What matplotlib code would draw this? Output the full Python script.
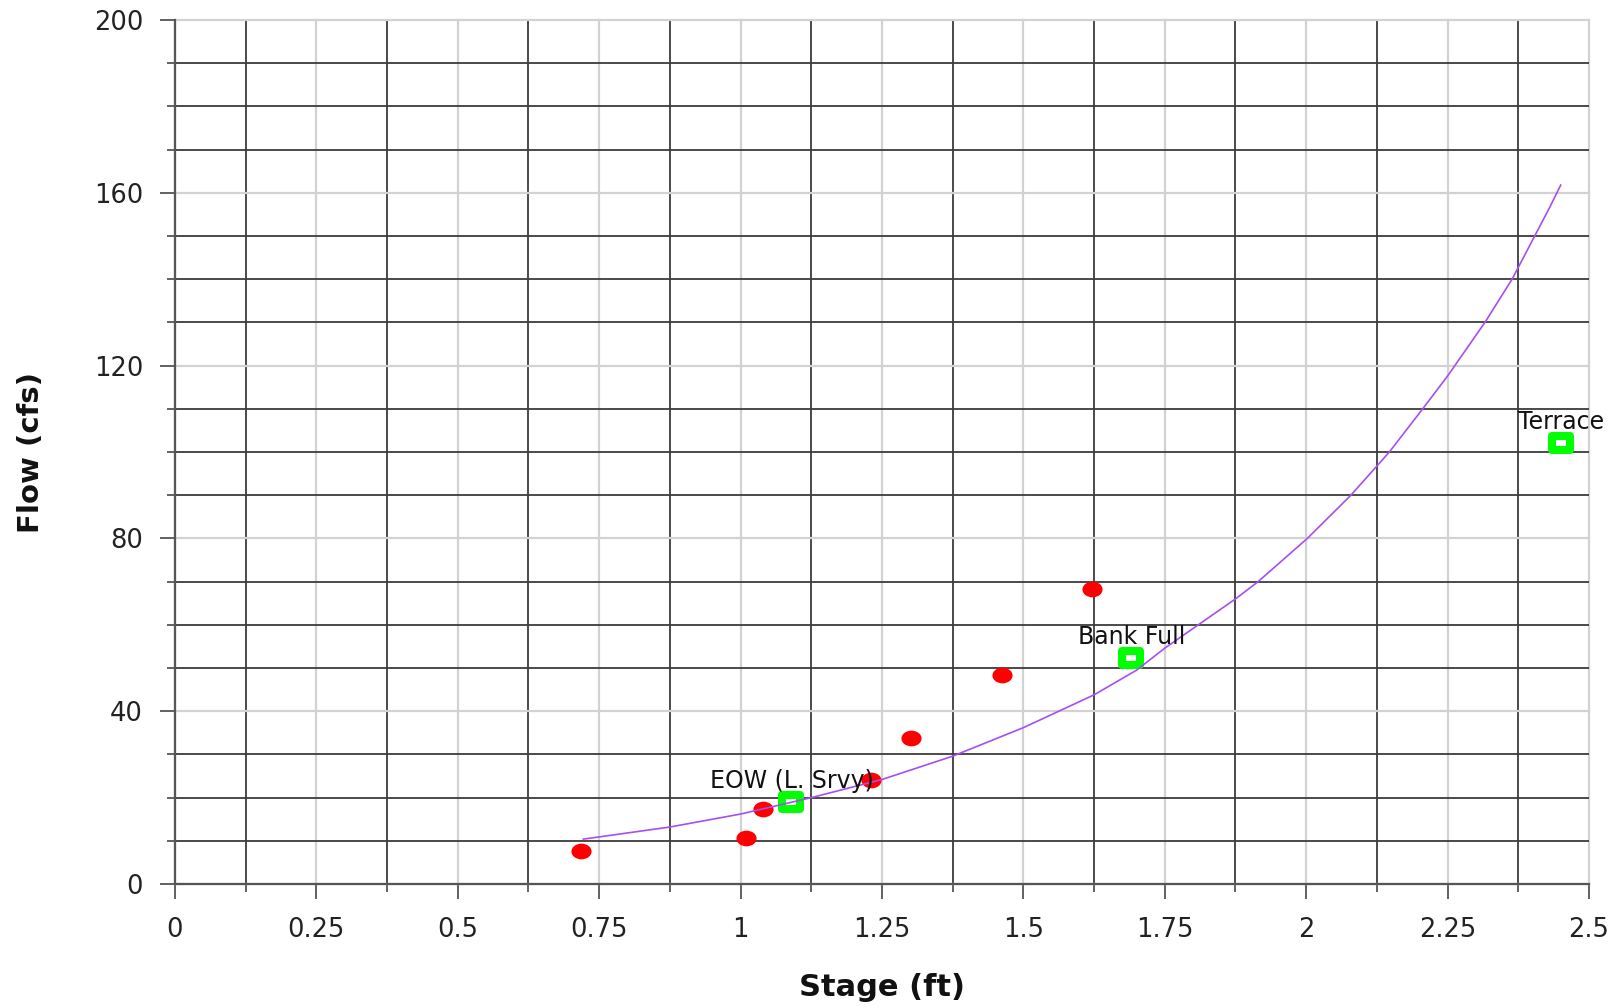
#!/usr/bin/env python3

import matplotlib
matplotlib.use("Agg")
import matplotlib.pyplot as plt
from matplotlib.path import Path
from matplotlib.markers import MarkerStyle
from matplotlib.transforms import Affine2D
from matplotlib.ticker import MultipleLocator, FuncFormatter

# measured stage / flow pairs (red dots)
meas_stage = [0.718, 1.010, 1.040, 1.230, 1.301, 1.462, 1.621]
meas_flow = [7.7, 10.7, 17.3, 24.1, 33.7, 48.5, 68.4]

# reference stages (green squares)
ref_names = ["EOW (L. Srvy)", "Bank Full", "Terrace"]
ref_stage = [1.090, 1.691, 2.450]
ref_flow = [19.1, 52.3, 102.2]

# rating curve
curve_stage = [0.722, 0.875, 1.000, 1.125, 1.250, 1.375, 1.500, 1.625, 1.700, 1.750,
	1.875, 1.915, 2.002, 2.079, 2.147, 2.206, 2.250, 2.316, 2.364, 2.400, 2.430, 2.450]
curve_flow = [10.4, 13.2, 16.2, 20.0, 24.2, 29.6, 36.2, 43.8, 49.5, 54.6,
	66.0, 70.0, 80.0, 90.0, 100.0, 110.0, 117.6, 130.0, 140.0, 149.0, 156.5, 161.8]


def main():
	plt.rcParams["font.family"] = ["DejaVu Sans"]

	fig = plt.figure(figsize=(16.14, 10.07), dpi=100)
	ax = fig.add_axes([0.1084, 0.1221, 0.8761, 0.8580])

	ax.set_xlim(0, 2.5)
	ax.set_ylim(0, 200)

	ax.xaxis.set_major_locator(MultipleLocator(0.25))
	ax.xaxis.set_minor_locator(MultipleLocator(0.125))
	ax.yaxis.set_major_locator(MultipleLocator(40))
	ax.yaxis.set_minor_locator(MultipleLocator(10))
	ax.xaxis.set_major_formatter(FuncFormatter(lambda v, p: "%g" % v))

	# light major grid, dark minor grid
	ax.grid(which="major", color="#d2d2d2", linewidth=1.6, zorder=0)
	ax.grid(which="minor", color="#3c3c3c", linewidth=1.3, zorder=0)
	ax.set_axisbelow(True)
	for line in ax.get_xgridlines() + ax.get_ygridlines():
		line.set_clip_on(False)

	for side in ("top", "right"):
		ax.spines[side].set_visible(False)
	for side in ("left", "bottom"):
		ax.spines[side].set_color("#555555")
		ax.spines[side].set_linewidth(1.6)

	ax.tick_params(which="major", length=11, width=1.3, color="#555555",
		labelsize=18.5, labelcolor="#222222")
	ax.tick_params(which="minor", length=5.5, width=1.3, color="#555555")
	ax.tick_params(axis="x", which="major", pad=13)
	ax.tick_params(axis="y", which="major", pad=12)

	dot = MarkerStyle(Path.unit_circle().transformed(Affine2D().scale(1.0, 0.78)))
	box = MarkerStyle(Path([(-0.5, -0.42), (0.5, -0.42), (0.5, 0.42), (-0.5, 0.42), (-0.5, -0.42)], closed=True),
		joinstyle="miter")

	ax.plot(meas_stage, meas_flow, linestyle="none", marker=dot, markersize=14.5,
		color="#ff0000", markeredgewidth=0, zorder=3)
	ax.plot(ref_stage, ref_flow, linestyle="none", marker=box, markersize=12.8,
		markerfacecolor="white", markeredgecolor="#00ff00", markeredgewidth=5.8, zorder=3)
	ax.plot(curve_stage, curve_flow, color="#a64ff0", linewidth=1.2, zorder=4)

	for name, x, y in zip(ref_names, ref_stage, ref_flow):
		ax.annotate(name, (x, y), xytext=(0, 15), textcoords="offset points",
			ha="center", va="center", fontsize=17, color="#111111", zorder=5)

	ax.set_xlabel("Stage (ft)", fontsize=22, fontweight="bold", color="#111111", va="center")
	ax.xaxis.set_label_coords(0.5, -103 / 864)
	ax.set_ylabel("Flow (cfs)", fontsize=21, fontweight="bold", color="#111111", va="center")
	ax.yaxis.set_label_coords(-144 / 1414, 0.5)

	fig.savefig("out.png", dpi=100)


if __name__ == "__main__":
	main()
